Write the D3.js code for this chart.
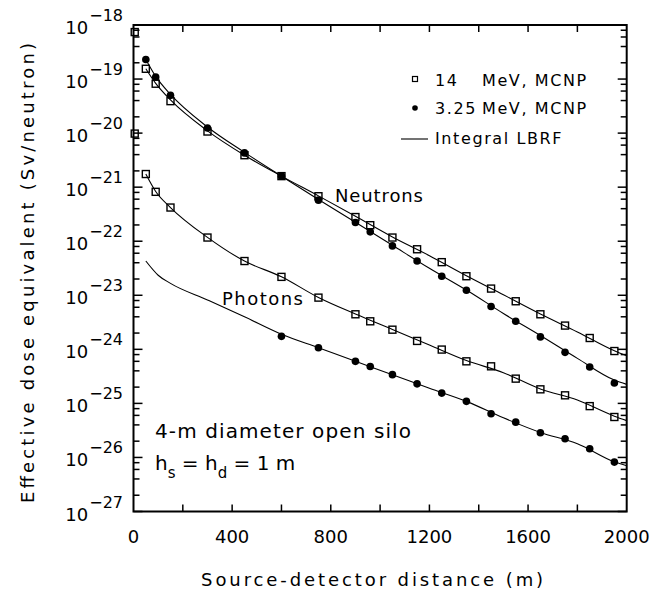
<!DOCTYPE html>
<html>
<head>
<meta charset="utf-8">
<script src="https://cdn.jsdelivr.net/npm/d3@7"></script>
<style>
  body { margin: 0; background: #fff; }
  text { font-family: "DejaVu Sans", sans-serif; fill: #000; }
</style>
</head>
<body>
<div id="chart"></div>
<script>
// MCNP points (distance in m, dose in Sv/neutron)
const dist = [50, 90, 150, 300, 450, 600, 750, 900, 960, 1050, 1150, 1250, 1350, 1450, 1550, 1650, 1750, 1850, 1950];
const neutron14 = [1.55e-19, 8.2e-20, 3.9e-20, 1.07e-20, 3.9e-21, 1.6e-21, 6.8e-22, 2.8e-22, 1.98e-22, 1.17e-22, 7.1e-23, 4.1e-23, 2.25e-23, 1.33e-23, 7.75e-24, 4.45e-24, 2.75e-24, 1.62e-24, 9.3e-25];
const neutron325 = [2.3e-19, 1.09e-19, 5.0e-20, 1.24e-20, 4.3e-21, 1.6e-21, 5.75e-22, 2.22e-22, 1.49e-22, 8.2e-23, 4.3e-23, 2.25e-23, 1.24e-23, 6.2e-24, 3.3e-24, 1.7e-24, 8.8e-25, 4.7e-25, 2.38e-25];
const photon14 = [1.75e-21, 8.2e-22, 4.2e-22, 1.17e-22, 4.3e-23, 2.19e-23, 9.05e-24, 4.45e-24, 3.3e-24, 2.31e-24, 1.43e-24, 9.9e-25, 6.0e-25, 4.85e-25, 2.87e-25, 1.82e-25, 1.41e-25, 8.9e-26, 5.6e-26];
const photonDist325 = [600, 750, 900, 960, 1050, 1150, 1250, 1350, 1450, 1550, 1650, 1750, 1850, 1950];
const photon325 = [1.74e-24, 1.07e-24, 6.0e-25, 4.8e-25, 3.4e-25, 2.3e-25, 1.55e-25, 1.09e-25, 6.45e-26, 4.5e-26, 2.86e-26, 2.22e-26, 1.45e-26, 8.2e-27];
// two stray squares sitting on the left axis
const edgeDist = [5, 5];
const edgeVal = [7.4e-19, 9.8e-21];

// Integral LBRF curves
const lbrfN14Dist = [50, 90, 150, 300, 450, 600, 750, 900, 1050, 1200, 1350, 1500, 1650, 1800, 1950, 2000];
const lbrfN14 = [1.55e-19, 8.3e-20, 4.1e-20, 1.1e-20, 3.9e-21, 1.6e-21, 6.9e-22, 2.9e-22, 1.2e-22, 5.4e-23, 2.3e-23, 1.02e-23, 4.5e-24, 2.1e-24, 9.4e-25, 7.6e-25];
const lbrfN325Dist = [50, 90, 150, 300, 450, 600, 750, 900, 1050, 1200, 1350, 1500, 1650, 1800, 1950, 2000];
const lbrfN325 = [2.3e-19, 1.12e-19, 5.2e-20, 1.3e-20, 4.4e-21, 1.6e-21, 5.9e-22, 2.25e-22, 8.4e-23, 3.15e-23, 1.25e-23, 4.6e-24, 1.8e-24, 6.8e-25, 2.7e-25, 2.25e-25];
const lbrfP14Dist = [50, 90, 150, 300, 450, 600, 750, 900, 1050, 1200, 1350, 1500, 1650, 1800, 1950, 2000];
const lbrfP14 = [1.75e-21, 8.3e-22, 4.2e-22, 1.18e-22, 4.3e-23, 2.2e-23, 9.1e-24, 4.5e-24, 2.33e-24, 1.2e-24, 6.2e-25, 3.7e-25, 1.85e-25, 1.15e-25, 5.8e-26, 4.8e-26];
const lbrfP325Dist = [50, 100, 150, 300, 450, 600, 750, 900, 1050, 1200, 1350, 1500, 1650, 1800, 1950, 2000];
const lbrfP325 = [4.3e-23, 2.35e-23, 1.66e-23, 8.2e-24, 4.0e-24, 1.9e-24, 1.07e-24, 6.0e-25, 3.4e-25, 1.9e-25, 1.09e-25, 5.4e-26, 2.9e-26, 1.8e-26, 8.3e-27, 7.0e-27];

const xTickValues = d3.range(0, 2001, 200);
const xLabelValues = d3.range(0, 2001, 400);
const decades = d3.range(-27, -17);
const minorMult = [2, 4, 6, 8];
const legendLabels = [["14", "MeV, MCNP"], ["3.25", "MeV, MCNP"], ["Integral LBRF"]];

const width = 663, height = 601;
const plotLeft = 133.5, plotRight = 626.7, plotTop = 25, plotBottom = 511.5;

const svg = d3.select("#chart").append("svg")
    .attr("width", width)
    .attr("height", height);

const x = d3.scaleLinear().domain([0, 2000]).range([plotLeft, plotRight]);
const y = d3.scaleLog().domain([1e-27, 1e-18]).range([plotBottom, plotTop]);

const majorY = decades.map(e => Math.pow(10, e));
const minorY = [];
decades.slice(0, -1).forEach(e => minorMult.forEach(m => minorY.push(m * Math.pow(10, e))));

// ticks (inward)
const tickG = svg.append("g").attr("stroke", "#000").attr("stroke-width", 1.5);
xTickValues.slice(1, -1).forEach(v => {
    tickG.append("line").attr("x1", x(v)).attr("x2", x(v)).attr("y1", plotBottom).attr("y2", plotBottom - 7);
    tickG.append("line").attr("x1", x(v)).attr("x2", x(v)).attr("y1", plotTop).attr("y2", plotTop + 7);
});
majorY.forEach(v => {
    tickG.append("line").attr("x1", plotLeft).attr("x2", plotLeft + 9).attr("y1", y(v)).attr("y2", y(v));
    tickG.append("line").attr("x1", plotRight).attr("x2", plotRight - 9).attr("y1", y(v)).attr("y2", y(v));
});
minorY.forEach(v => {
    tickG.append("line").attr("x1", plotLeft).attr("x2", plotLeft + 6).attr("y1", y(v)).attr("y2", y(v));
    tickG.append("line").attr("x1", plotRight).attr("x2", plotRight - 6).attr("y1", y(v)).attr("y2", y(v));
});

// frame
svg.append("rect")
    .attr("x", plotLeft).attr("y", plotTop)
    .attr("width", plotRight - plotLeft).attr("height", plotBottom - plotTop)
    .attr("fill", "none").attr("stroke", "#000").attr("stroke-width", 2);

// tick labels
svg.append("g").selectAll("text")
    .data(xLabelValues).enter().append("text")
    .attr("x", d => x(d)).attr("y", 543)
    .attr("text-anchor", "middle")
    .attr("font-size", 18)
    .text(d => d);

const yl = svg.append("g").selectAll("text")
    .data(decades).enter().append("text")
    .attr("x", 123).attr("y", d => y(Math.pow(10, d)) + 9)
    .attr("text-anchor", "end")
    .attr("font-size", 18);
yl.append("tspan").text("10");
yl.append("tspan").attr("dx", 1).attr("dy", -13).attr("font-size", 16).text(d => "\u2212" + (-d));

// axis titles
svg.append("text")
    .attr("x", (plotLeft + plotRight) / 2 - 8).attr("y", 586)
    .attr("text-anchor", "middle").attr("font-size", 18)
    .attr("textLength", 342).attr("lengthAdjust", "spacing")
    .text("Source-detector distance (m)");

svg.append("text")
    .attr("transform", "translate(34,273) rotate(-90)")
    .attr("text-anchor", "middle").attr("font-size", 18)
    .attr("textLength", 460).attr("lengthAdjust", "spacing")
    .text("Effective dose equivalent (Sv/neutron)");

// curves
const line = d3.line()
    .x(d => x(d[0]))
    .y(d => y(d[1]))
    .curve(d3.curveMonotoneX);

const curves = [
    [lbrfN14Dist, lbrfN14],
    [lbrfN325Dist, lbrfN325],
    [lbrfP14Dist, lbrfP14],
    [lbrfP325Dist, lbrfP325]
];
svg.append("g").selectAll("path")
    .data(curves).enter().append("path")
    .attr("d", c => line(d3.zip(c[0], c[1])))
    .attr("fill", "none").attr("stroke", "#000").attr("stroke-width", 1.1);

// markers
const squares = d3.zip(dist, neutron14).concat(d3.zip(dist, photon14), d3.zip(edgeDist, edgeVal));
const circles = d3.zip(dist, neutron325).concat(d3.zip(photonDist325, photon325));

svg.append("g").selectAll("rect")
    .data(squares).enter().append("rect")
    .attr("x", d => x(d[0]) - 3.5).attr("y", d => y(d[1]) - 3.5)
    .attr("width", 7).attr("height", 7)
    .attr("fill", "none").attr("stroke", "#000").attr("stroke-width", 1.4);

svg.append("g").selectAll("circle")
    .data(circles).enter().append("circle")
    .attr("cx", d => x(d[0])).attr("cy", d => y(d[1]))
    .attr("r", 3.8).attr("fill", "#000");

// legend
const lg = svg.append("g");
lg.append("rect").attr("x", 412.5).attr("y", 76.5).attr("width", 5).attr("height", 5)
    .attr("fill", "none").attr("stroke", "#000").attr("stroke-width", 1.2);
lg.append("circle").attr("cx", 415).attr("cy", 108).attr("r", 2.8).attr("fill", "#000");
lg.append("line").attr("x1", 401).attr("x2", 428).attr("y1", 139).attr("y2", 139)
    .attr("stroke", "#000").attr("stroke-width", 1.1);
const legendY = [85.5, 113.5, 144];
legendLabels.forEach((l, i) => {
    const t = lg.append("text").attr("x", 435).attr("y", legendY[i]).attr("font-size", 16)
        .attr("letter-spacing", 1.6);
    t.append("tspan").text(l[0]);
    if (l[1]) t.append("tspan").attr("x", 482).text(l[1]);
});

// annotations
svg.append("text").attr("x", 335).attr("y", 202).attr("font-size", 18)
    .attr("textLength", 88).attr("lengthAdjust", "spacing").text("Neutrons");
svg.append("text").attr("x", 222).attr("y", 305).attr("font-size", 18)
    .attr("textLength", 81).attr("lengthAdjust", "spacing").text("Photons");

svg.append("text").attr("x", 155).attr("y", 438).attr("font-size", 20)
    .attr("textLength", 256).attr("lengthAdjust", "spacing").text("4-m diameter open silo");
const hs = svg.append("text").attr("x", 155).attr("y", 470).attr("font-size", 20)
    .style("white-space", "pre");
hs.append("tspan").text("h");
hs.append("tspan").attr("font-size", 15).attr("dy", 8).text("s");
hs.append("tspan").attr("dy", -8).text(" = h");
hs.append("tspan").attr("font-size", 15).attr("dy", 8).text("d");
hs.append("tspan").attr("dy", -8).text(" = 1 m");
</script>
</body>
</html>
